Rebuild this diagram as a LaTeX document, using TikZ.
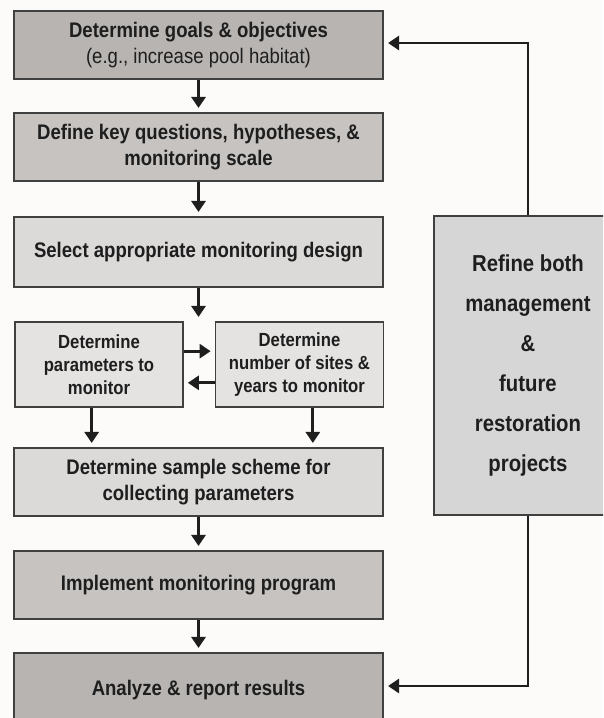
\documentclass[tikz,border=0pt]{standalone}
\usepackage{fontspec}
\setmainfont[FakeStretch=0.88]{Liberation Sans}
\usetikzlibrary{arrows.meta}

\definecolor{pagebg}{HTML}{FDFBFA}
\definecolor{fillA}{HTML}{B7B4B2}
\definecolor{fillB}{HTML}{C6C3C1}
\definecolor{fillC}{HTML}{DCDAD9}
\definecolor{fillD}{HTML}{E5E3E2}
\definecolor{fillE}{HTML}{D6D6D6}
\definecolor{inkgray}{HTML}{1E1E1E}

\begin{document}
\begin{tikzpicture}[x=0.03cm,y=-0.03cm,
	box/.style={draw=inkgray!85,line width=1.2pt,inner sep=0pt,align=center,text=inkgray,
		font=\bfseries\fontsize{18}{22.5}\selectfont,minimum width=11.07cm,minimum height=2.04cm},
	halfbox/.style={box,font=\bfseries\fontsize{16.2}{19.6}\selectfont,minimum width=5.03cm,minimum height=2.55cm},
	arr/.style={draw=inkgray,line width=2.5pt,-{Triangle[length=0.33cm,width=0.42cm]},shorten >=0.13cm}]

	\useasboundingbox[fill=pagebg] (0,0) rectangle (603,718);
	\clip (0,0) rectangle (603,718);

	\node[box,fill=fillA] (goals) at (198.5,45) {Determine goals \& objectives\\{\mdseries (e.g., increase pool habitat)}};
	\node[box,fill=fillB] (questions) at (198.5,147) {Define key questions, hypotheses, \&\\monitoring scale};
	\node[box,fill=fillC,minimum height=2.1cm] (design) at (198.5,252) {Select appropriate monitoring design};

	\node[halfbox,fill=fillD] (params) at (99,364.5) {Determine\\parameters to\\monitor};
	\node[halfbox,fill=fillD] (sites) at (299.5,364.5) {Determine\\number of sites \&\\years to monitor};

	\node[box,fill=fillC] (scheme) at (198.5,482) {Determine sample scheme for\\collecting parameters};
	\node[box,fill=fillB] (implement) at (198.5,585) {Implement monitoring program};
	\node[box,fill=fillA,minimum height=2.22cm] (analyze) at (198.5,690) {Analyze \& report results};

	\node[box,fill=fillE,minimum width=5.64cm,minimum height=8.97cm,
		font=\bfseries\fontsize{19.7}{34}\selectfont] (refine) at (528,365.5)
		{Refine both\\management\\\&\\future\\restoration\\projects};


	\draw[arr] (goals) -- (questions);
	\draw[arr] (questions) -- (design);
	\draw[arr] (design) -- (design |- params.north);
	\draw[arr] ([yshift=0.4cm]params.east) -- ([yshift=0.4cm]sites.west);
	\draw[arr] ([yshift=-0.55cm]sites.west) -- ([yshift=-0.55cm]params.east);
	\draw[arr] ([xshift=-0.22cm]params.south) -- ([xshift=-0.22cm]params.south |- scheme.north);
	\draw[arr] ([xshift=0.4cm]sites.south) -- ([xshift=0.4cm]sites.south |- scheme.north);
	\draw[arr] (scheme) -- (implement);
	\draw[arr] (implement) -- (analyze.north);

	\draw[arr] (refine.north) |- ([yshift=0.06cm]goals.east);
	\draw[arr] (refine.south) |- ([yshift=0.12cm]analyze.east);
\end{tikzpicture}
\end{document}
